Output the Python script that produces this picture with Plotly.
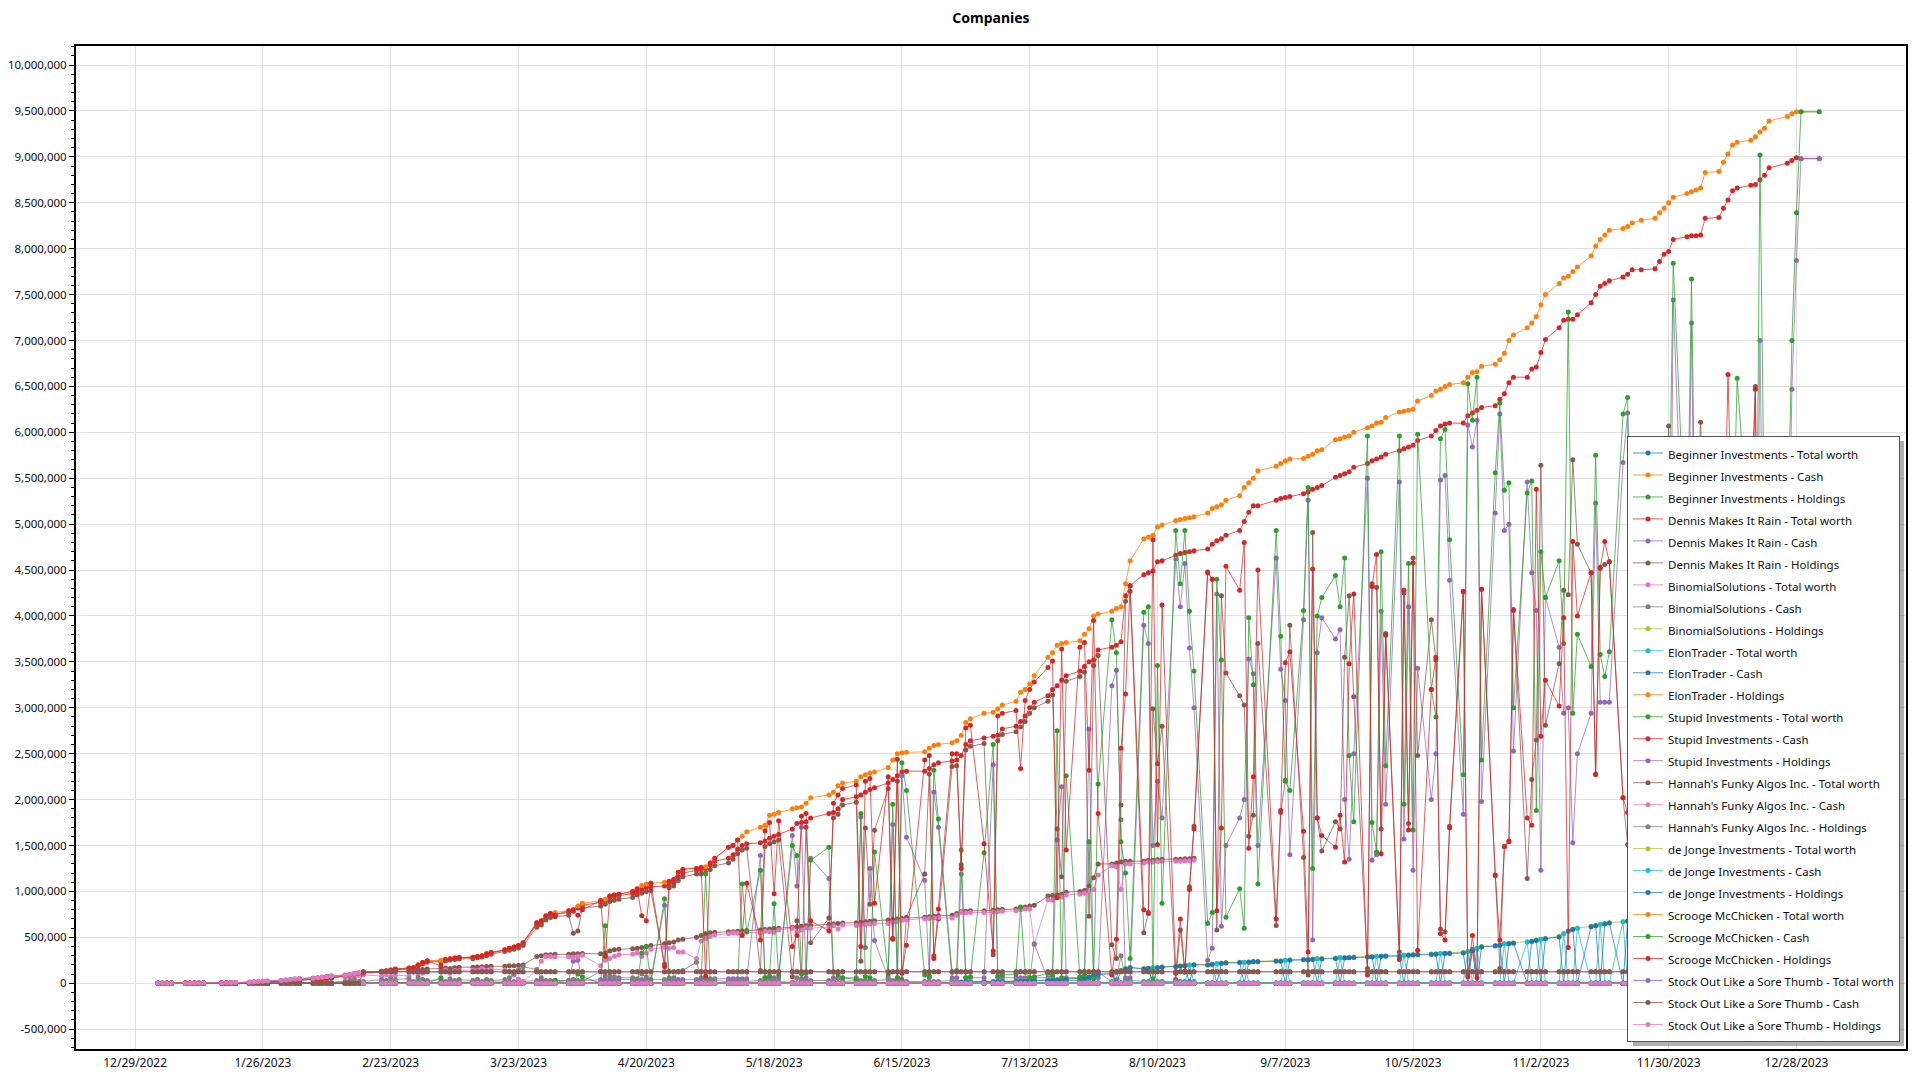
import pandas as pd
import plotly.graph_objects as go

TITLE = "Companies"

# trading days shown on the chart (weekends / market holidays have no point)
HOLIDAYS = ["2023-01-02", "2023-01-16", "2023-02-20", "2023-04-07", "2023-05-29",
            "2023-06-19", "2023-07-04", "2023-09-04", "2023-11-23", "2023-12-25",
            "2024-01-01"]
DATES = [d.strftime("%Y-%m-%d") for d in
         pd.bdate_range("2023-01-03", "2024-01-02", freq="C", holidays=HOLIDAYS)]


def flat(weeks):
    return [v for w in weeks for v in w]


# ---- values in thousands, one inner list per trading week ----
# Scrooge McChicken - Total worth
SCROOGE_TOTAL_K = flat([
    [1, 1, 1, 2], [2, 2, 3, 3, 3], [4, 5, 5, 6], [8, 10, 12, 14, 15], [18, 22, 25, 30, 35],
    [40, 45, 50, 55, 60], [80, 90, 100, 108, 115], [130, 135, 145, 155], [165, 170, 205, 225, 245], [250, 260, 268, 275, 280],
    [282, 290, 300, 320, 335], [365, 380, 395, 410, 440], [660, 680, 735, 760, 770], [790, 800, 840, 870], [900, 915, 950, 960, 970],
    [1000, 1030, 1065, 1080, 1090], [1100, 1110, 1130, 1210, 1240], [1250, 1260, 1270, 1310, 1360], [1480, 1500, 1560, 1600, 1650], [1700, 1720, 1830, 1840, 1860],
    [1900, 1910, 1920, 1960, 2020], [2050, 2080, 2150, 2180], [2200, 2250, 2270, 2290, 2300], [2350, 2430, 2500, 2510, 2515], [2520, 2560, 2590, 2600],
    [2620, 2640, 2700, 2840, 2880], [2940, 2950, 2990, 3030], [3070, 3170, 3200, 3260, 3350], [3550, 3600, 3680, 3700, 3710], [3730, 3800, 3860, 4000, 4020],
    [4050, 4080, 4100, 4350, 4600], [4840, 4860, 4880, 4970, 4990], [5040, 5050, 5060, 5070, 5080], [5120, 5170, 5190, 5210, 5260], [5310, 5400, 5450, 5500, 5580],
    [5630, 5660, 5690, 5710], [5715, 5740, 5760, 5800, 5810], [5920, 5930, 5950, 5960, 6000], [6050, 6070, 6100, 6110, 6160], [6220, 6230, 6240, 6250, 6340],
    [6400, 6450, 6470, 6500, 6520], [6540, 6600, 6650, 6660, 6720], [6740, 6790, 6860, 7000, 7060], [7140, 7190, 7260, 7390, 7500], [7620, 7680, 7700, 7750, 7800],
    [7920, 8030, 8100, 8150, 8200], [8220, 8240, 8280, 8310], [8330, 8390, 8440, 8500, 8560], [8600, 8620, 8640, 8660, 8830], [8840, 8940, 9030, 9130, 9160],
    [9180, 9220, 9270, 9310, 9390], [9440, 9470, 9490, 9490], [9490],
])

# Scrooge McChicken - Cash
SCROOGE_CASH_K = flat([
    [0, 0, 0, 0], [0, 0, 0, 0, 0], [0, 0, 0, 0], [0, 0, 0, 0, 0], [0, 0, 0, 0, 0],
    [0, 0, 0, 0, 0], [0, 0, 0, 0, 0], [0, 0, 0, 0], [0, 0, 10, 0, 0], [60, 0, 0, 0, 0],
    [0, 0, 0, 0, 0], [0, 0, 0, 0, 0], [0, 0, 0, 0, 30], [0, 0, 100, 70], [0, 625, 0, 0, 0],
    [0, 0, 330, 400, 0], [920, 0, 0, 0, 0], [0, 0, 1190, 0, 0], [0, 0, 0, 1080, 560], [1230, 60, 80, 865, 90],
    [1500, 1390, 100, 110, 1340], [1480, 120, 100, 60], [40, 1850, 70, 60, 1430], [100, 1950, 60, 2400, 2100], [90, 80, 2320, 1790],
    [120, 140, 1450, 60, 70], [1420, 2600, 80, 90], [100, 830, 120, 60, 70], [110, 90, 2750, 60, 2260], [70, 90, 1540, 50, 2170],
    [3960, 3600, 1540, 1200, 270], [4040, 4100, 50, 3460, 870], [4930, 4350, 4930, 4050, 3400], [650, 770, 4400, 3520, 720], [1030, 600, 3980, 3250, 1080],
    [4930, 3780, 2200, 2100], [4060, 5400, 1250, 4000, 4200], [4440, 4100, 4630, 2480, 1760], [5960, 1750, 1430, 4700, 2370], [5960, 1950, 4570, 1670, 5980],
    [3200, 2900, 5930, 6030, 4830], [2270, 6530, 6130, 6600, 2430], [5560, 6320, 5370, 5450, 3000], [5340, 5470, 1880, 4700, 4200], [4600, 3700, 7310, 2940, 3800],
    [3450, 5750, 3580, 3340, 3610], [6200, 6380, 4000, 4300], [4200, 4500, 4300, 4600, 7840], [4400, 7670, 4100, 4500, 4200], [4300, 4600, 2400, 4400, 6590],
    [4500, 2750, 9020, 4800, 4600], [4700, 7000, 8390, 9490], [9490],
])

# Dennis Makes It Rain - Total worth
DENNIS_TOTAL_K = flat([
    [1, 1, 1, 2], [2, 2, 3, 3, 3], [4, 5, 5, 6], [8, 10, 12, 14, 15], [18, 22, 25, 30, 35],
    [40, 45, 50, 55, 60], [80, 90, 100, 108, 115], [128, 133, 142, 150], [160, 168, 200, 220, 240], [245, 255, 262, 270, 275],
    [280, 288, 298, 315, 330], [360, 375, 390, 405, 430], [640, 665, 720, 745, 755], [770, 785, 820, 850], [880, 900, 930, 945, 955],
    [975, 1000, 1020, 1040, 1050], [1060, 1080, 1100, 1160, 1200], [1230, 1240, 1250, 1290, 1330], [1360, 1400, 1460, 1500, 1520], [1530, 1550, 1580, 1600, 1620],
    [1680, 1740, 1750, 1760, 1800], [1850, 1860, 1900, 2000], [2030, 2050, 2080, 2110, 2130], [2180, 2220, 2260, 2300, 2310], [2310, 2340, 2380, 2400],
    [2420, 2430, 2480, 2600, 2640], [2670, 2690, 2700, 2770], [2800, 2850, 2910, 3000, 3060], [3130, 3200, 3240, 3300, 3350], [3400, 3450, 3500, 3520, 3630],
    [3660, 3680, 3720, 4220, 4330], [4450, 4470, 4490, 4590, 4600], [4660, 4680, 4690, 4700, 4710], [4730, 4780, 4820, 4840, 4880], [4930, 5030, 5130, 5200, 5200],
    [5260, 5280, 5290, 5300], [5330, 5350, 5380, 5400, 5420], [5510, 5530, 5550, 5570, 5620], [5660, 5690, 5710, 5730, 5760], [5800, 5820, 5840, 5860, 5910],
    [5960, 6020, 6070, 6090, 6100], [6100, 6180, 6210, 6240, 6270], [6290, 6360, 6420, 6540, 6600], [6600, 6690, 6710, 6870, 7010], [7140, 7220, 7230, 7230, 7280],
    [7410, 7500, 7590, 7620, 7650], [7690, 7720, 7770, 7770], [7780, 7860, 7940, 7970, 8100], [8130, 8140, 8140, 8150, 8330], [8340, 8440, 8530, 8630, 8660],
    [8690, 8700, 8750, 8800, 8880], [8930, 8960, 8990, 8980], [8980],
])

# Dennis Makes It Rain - Cash
DENNIS_CASH_K = flat([
    [0, 0, 0, 0], [0, 0, 0, 0, 0], [0, 0, 0, 0], [0, 0, 0, 0, 0], [0, 0, 0, 0, 0],
    [0, 0, 0, 0, 0], [0, 0, 0, 0, 0], [0, 0, 0, 0], [5, 5, 8, 10, 10], [10, 12, 10, 12, 10],
    [12, 10, 12, 15, 15], [15, 15, 20, 20, 20], [30, 30, 30, 30, 30], [30, 240, 250, 30], [40, 40, 40, 40, 40],
    [40, 40, 40, 40, 40], [850, 40, 40, 40, 40], [40, 50, 50, 50, 50], [50, 50, 50, 50, 50], [1390, 60, 60, 60, 60],
    [1610, 1060, 1700, 60, 1360], [1140, 60, 60, 60], [60, 1810, 390, 1250, 465], [60, 1730, 60, 2260, 1590], [1120, 60, 2080, 1700],
    [60, 60, 1190, 60, 60], [60, 2380, 60, 60], [60, 60, 60, 60, 60], [60, 60, 1560, 2140, 60], [60, 60, 2770, 60, 60],
    [3240, 3410, 1780, 60, 60], [3900, 3700, 1500, 2200, 1800], [4620, 4100, 4570, 3650, 3000], [250, 380, 4240, 620, 1500], [1800, 2000, 3530, 3370, 1500],
    [4630, 3420, 3080, 1400], [3960, 5260, 470, 3600, 3980], [3750, 3850, 2000, 1350, 2500], [5500, 1340, 1400, 4050, 1950], [5460, 1570, 4100, 1230, 3430],
    [2000, 2500, 5480, 5530, 4390], [1840, 6080, 5840, 6130, 1980], [5120, 6200, 4930, 5000, 2530], [5460, 4470, 4060, 1230, 4200], [3660, 2940, 3000, 1530, 2500],
    [2940, 5230, 3060, 3060, 3060], [5670, 6210, 3000, 3500], [3500, 3200, 3300, 1900, 7440], [3400, 7190, 3100, 2040, 3600], [3300, 3500, 3200, 3400, 3600],
    [3500, 2200, 7000, 3300, 3400], [3600, 6470, 7870, 8980], [8980],
])

# Hannah's Funky Algos Inc. (series ends 2023-08-18)
HANNAH_TOTAL_K = flat([
    [0, 0, 0, 0], [0, 1, 2, 2, 3], [4, 5, 6, 8], [10, 12, 15, 18, 20], [25, 30, 35, 40, 45],
    [55, 60, 65, 75, 80], [90, 95, 100, 108, 112], [118, 122, 125, 128], [130, 140, 150, 150, 155], [160, 165, 160, 170, 175],
    [175, 178, 180, 182, 185], [185, 190, 190, 195, 200], [290, 300, 310, 310, 315], [315, 320, 320, 325], [320, 330, 350, 365, 370],
    [375, 380, 390, 400, 410], [430, 440, 450, 470, 480], [500, 520, 540, 550, 555], [560, 560, 565, 570, 575], [580, 585, 590, 595, 600],
    [610, 615, 620, 625, 630], [640, 645, 650, 655], [660, 665, 670, 675, 680], [690, 695, 700, 705, 710], [720, 725, 730, 735],
    [740, 760, 780, 785, 790], [790, 795, 800, 805], [810, 820, 830, 840, 850], [950, 955, 960, 970, 990], [1000, 1010, 1060, 1150, 1300],
    [1300, 1310, 1320, 1330, 1330], [1330, 1340, 1340, 1345, 1350], [1350, 1350, 1355, 1355, 1360],
])
HANNAH_HOLDINGS_K = flat([
    [0, 0, 0, 0], [0, 0, 0, 0, 0], [0, 0, 0, 0], [0, 0, 0, 0, 0], [0, 0, 5, 5, 5],
    [10, 10, 20, 20, 10], [20, 30, 40, 20, 20], [40, 30, 50, 40], [50, 20, 60, 40, 30], [40, 20, 50, 30, 40],
    [30, 40, 20, 40, 30], [40, 60, 100, 150, 180], [150, 60, 20, 20, 30], [30, 40, 30, 20], [130, 80, 80, 70, 60],
    [60, 50, 100, 70, 40], [40, 60, 60, 130, 140], [230, 60, 50, 40, 30], [20, 10, 20, 30, 20], [30, 20, 30, 40, 20],
    [10, 60, 40, 20, 30], [30, 20, 60, 20], [30, 30, 30, 30, 30], [40, 30, 30, 20, 20], [20, 20, 20, 20],
    [30, 20, 10, 20, 20], [20, 20, 20, 20], [20, 20, 20, 30, 430], [40, 50, 30, 30, 30], [30, 30, 50, 130, 120],
    [20, 40, 300, 30, 30], [20, 20, 20, 20, 20], [20, 20, 20, 20, 20],
])

# de Jonge Investments (series starts 2023-06-26)
DEJONGE_TOTAL_K = flat([
    [10, 10, 15, 15, 20], [20, 20, 25, 25], [25, 30, 30, 35, 35], [35, 40, 40, 45, 50], [55, 60, 70, 85, 100],
    [110, 120, 140, 160, 175], [160, 165, 170, 175, 180], [185, 190, 195, 200, 205], [205, 210, 215, 220, 225], [230, 230, 235, 240, 240],
    [245, 245, 250, 255], [260, 262, 265, 268, 270], [275, 278, 280, 282, 285], [290, 292, 295, 298, 300], [300, 305, 310, 312, 315],
    [318, 320, 325, 328, 330], [335, 345, 360, 380, 400], [410, 420, 430, 435, 440], [450, 460, 470, 480, 490], [510, 540, 570, 590, 600],
    [620, 630, 640, 650, 660], [670, 680, 685, 690], [690, 695, 700, 700, 705], [705, 710, 710, 715, 715], [720, 720, 720, 725, 725],
    [725, 730, 730, 730, 735], [735, 735, 740, 740], [740],
])
DEJONGE_HOLDINGS_K = flat([
    [5, 5, 10, 10, 15], [15, 15, 20, 20], [20, 25, 25, 30, 30], [30, 35, 35, 40, 45], [50, 55, 65, 80, 95],
    [105, 0, 135, 155, 170], [155, 160, 0, 170, 175], [180, 185, 190, 0, 200], [200, 205, 0, 215, 220], [225, 0, 230, 235, 235],
    [240, 240, 0, 250], [255, 257, 260, 0, 265], [270, 0, 275, 277, 280], [285, 287, 0, 293, 295], [295, 0, 305, 307, 310],
    [313, 315, 0, 323, 325], [330, 0, 355, 0, 395], [405, 415, 0, 430, 435], [0, 455, 465, 0, 485], [505, 0, 565, 585, 0],
    [615, 625, 0, 645, 655], [0, 675, 680, 0], [685, 690, 0, 695, 700], [700, 0, 705, 710, 0], [715, 715, 0, 720, 720],
    [0, 725, 725, 0, 730], [730, 0, 735, 735], [740],
])

# Stock Out Like a Sore Thumb
STOCKOUT_TOTAL_K = flat([
    [0, 0, 0, 0], [1, 1, 2, 2, 3], [4, 5, 6, 8], [12, 15, 18, 22, 25], [30, 35, 40, 45, 50],
    [55, 60, 65, 70, 78], [85, 95, 105, 115, 125], [125, 125, 125, 125], [125, 125, 125, 125, 125], [125, 125, 125, 125, 125],
    [125, 125, 125, 125, 125], [125, 125, 125, 125, 125], [125, 125, 125, 125, 125], [125, 125, 125, 125], [125, 125, 125, 125, 125],
    [125, 125, 125, 125, 125], [125, 125, 125, 125, 125], [125, 125, 125, 125, 125], [125, 125, 125, 125, 125], [125, 125, 125, 125, 125],
    [125, 125, 125, 125, 125], [125, 125, 125, 125], [125, 125, 125, 125, 125], [125, 125, 125, 125, 125], [125, 125, 125, 125],
    [125, 125, 125, 125, 125], [125, 125, 125, 125], [125, 125, 125, 125, 125], [125, 125, 125, 125, 125], [125, 125, 125, 125, 125],
    [125, 125, 125, 125, 125], [125, 125, 125, 125, 125], [125, 125, 125, 125, 125], [125, 125, 125, 125, 125], [125, 125, 125, 125, 125],
    [125, 125, 125, 125], [125, 125, 125, 125, 125], [125, 125, 125, 125, 125], [125, 125, 125, 125, 125], [125, 125, 125, 125, 125],
    [125, 125, 125, 125, 125], [125, 125, 125, 125, 125], [125, 125, 125, 125, 125], [125, 125, 125, 125, 125], [125, 125, 125, 125, 125],
    [125, 125, 125, 125, 125], [125, 125, 125, 125], [125, 125, 125, 125, 125], [125, 125, 125, 125, 125], [125, 125, 125, 125, 125],
    [125, 125, 125, 125, 125], [125, 125, 125, 125], [125],
])
STOCKOUT_HOLDINGS_K = flat([
    [0, 0, 0, 0], [1, 1, 2, 2, 3], [4, 5, 6, 8], [12, 15, 18, 22, 25], [30, 35, 40, 45, 50],
    [55, 60, 65, 70, 78], [85, 95, 105, 115, 0], [0, 0, 0, 0], [0, 0, 0, 0, 0], [0, 0, 0, 0, 0],
    [0, 0, 0, 0, 0], [0, 0, 0, 0, 0], [0, 0, 0, 0, 0], [0, 0, 0, 0], [0, 0, 0, 0, 0],
    [0, 0, 0, 0, 0], [0, 0, 0, 0, 0], [0, 0, 0, 0, 0], [0, 0, 0, 0, 0], [0, 0, 0, 0, 0],
    [0, 0, 0, 0, 0], [0, 0, 0, 0], [0, 0, 0, 0, 0], [0, 0, 0, 0, 0], [0, 0, 0, 0],
    [0, 0, 0, 0, 0], [0, 0, 0, 0], [0, 0, 0, 0, 0], [0, 0, 0, 0, 0], [0, 0, 0, 0, 0],
    [0, 0, 0, 0, 0], [0, 0, 0, 0, 0], [0, 0, 0, 0, 0], [0, 0, 0, 0, 0], [0, 0, 0, 0, 0],
    [0, 0, 0, 0], [0, 0, 0, 0, 0], [0, 0, 0, 0, 0], [0, 0, 0, 0, 0], [0, 0, 0, 0, 0],
    [0, 0, 0, 0, 0], [0, 0, 0, 0, 0], [0, 0, 0, 0, 0], [0, 0, 0, 0, 0], [0, 0, 0, 0, 0],
    [0, 0, 0, 0, 0], [0, 0, 0, 0], [0, 0, 0, 0, 0], [0, 0, 0, 0, 0], [0, 0, 0, 0, 0],
    [0, 0, 0, 0, 0], [0, 0, 0, 0], [0],
])

# companies whose values stay at 0 the whole year
FLAT_ZERO_K = flat([
    [0, 0, 0, 0], [0, 0, 0, 0, 0], [0, 0, 0, 0], [0, 0, 0, 0, 0], [0, 0, 0, 0, 0],
    [0, 0, 0, 0, 0], [0, 0, 0, 0, 0], [0, 0, 0, 0], [0, 0, 0, 0, 0], [0, 0, 0, 0, 0],
    [0, 0, 0, 0, 0], [0, 0, 0, 0, 0], [0, 0, 0, 0, 0], [0, 0, 0, 0], [0, 0, 0, 0, 0],
    [0, 0, 0, 0, 0], [0, 0, 0, 0, 0], [0, 0, 0, 0, 0], [0, 0, 0, 0, 0], [0, 0, 0, 0, 0],
    [0, 0, 0, 0, 0], [0, 0, 0, 0], [0, 0, 0, 0, 0], [0, 0, 0, 0, 0], [0, 0, 0, 0],
    [0, 0, 0, 0, 0], [0, 0, 0, 0], [0, 0, 0, 0, 0], [0, 0, 0, 0, 0], [0, 0, 0, 0, 0],
    [0, 0, 0, 0, 0], [0, 0, 0, 0, 0], [0, 0, 0, 0, 0], [0, 0, 0, 0, 0], [0, 0, 0, 0, 0],
    [0, 0, 0, 0], [0, 0, 0, 0, 0], [0, 0, 0, 0, 0], [0, 0, 0, 0, 0], [0, 0, 0, 0, 0],
    [0, 0, 0, 0, 0], [0, 0, 0, 0, 0], [0, 0, 0, 0, 0], [0, 0, 0, 0, 0], [0, 0, 0, 0, 0],
    [0, 0, 0, 0, 0], [0, 0, 0, 0], [0, 0, 0, 0, 0], [0, 0, 0, 0, 0], [0, 0, 0, 0, 0],
    [0, 0, 0, 0, 0], [0, 0, 0, 0], [0],
])

Y_TICK_VALUES = [-500000, 0, 500000, 1000000, 1500000, 2000000, 2500000, 3000000, 3500000,
                 4000000, 4500000, 5000000, 5500000, 6000000, 6500000, 7000000, 7500000,
                 8000000, 8500000, 9000000, 9500000, 10000000]
Y_TICK_LABELS = ["-500,000", "0", "500,000", "1,000,000", "1,500,000", "2,000,000", "2,500,000",
                 "3,000,000", "3,500,000", "4,000,000", "4,500,000", "5,000,000", "5,500,000",
                 "6,000,000", "6,500,000", "7,000,000", "7,500,000", "8,000,000", "8,500,000",
                 "9,000,000", "9,500,000", "10,000,000"]

PALETTE = ["#1f77b4", "#ff7f0e", "#2ca02c", "#d62728", "#9467bd",
           "#8c564b", "#e377c2", "#7f7f7f", "#bcbd22", "#17becf"]

N = len(DATES)
for nm, arr in [("SCROOGE_TOTAL", SCROOGE_TOTAL_K), ("SCROOGE_CASH", SCROOGE_CASH_K),
                ("DENNIS_TOTAL", DENNIS_TOTAL_K), ("DENNIS_CASH", DENNIS_CASH_K),
                ("STOCKOUT_TOTAL", STOCKOUT_TOTAL_K), ("STOCKOUT_HOLD", STOCKOUT_HOLDINGS_K),
                ("ZERO", FLAT_ZERO_K)]:
    if len(arr) != N:
        raise ValueError(f"{nm}: {len(arr)} values for {N} dates")
if len(HANNAH_TOTAL_K) != len(HANNAH_HOLDINGS_K) or len(DEJONGE_TOTAL_K) != len(DEJONGE_HOLDINGS_K):
    raise ValueError("length mismatch")


def k(seq):
    return [v * 1000 for v in seq]


def diff(a, b):
    return [x - y for x, y in zip(a, b)]


HANNAH_DATES = DATES[:len(HANNAH_TOTAL_K)]
DEJONGE_DATES = DATES[N - len(DEJONGE_TOTAL_K):]

SERIES = [
    ("Beginner Investments - Total worth", DATES, FLAT_ZERO_K),
    ("Beginner Investments - Cash", DATES, FLAT_ZERO_K),
    ("Beginner Investments - Holdings", DATES, FLAT_ZERO_K),
    ("Dennis Makes It Rain - Total worth", DATES, DENNIS_TOTAL_K),
    ("Dennis Makes It Rain - Cash", DATES, DENNIS_CASH_K),
    ("Dennis Makes It Rain - Holdings", DATES, diff(DENNIS_TOTAL_K, DENNIS_CASH_K)),
    ("BinomialSolutions - Total worth", DATES, FLAT_ZERO_K),
    ("BinomialSolutions - Cash", DATES, FLAT_ZERO_K),
    ("BinomialSolutions - Holdings", DATES, FLAT_ZERO_K),
    ("ElonTrader - Total worth", DATES, FLAT_ZERO_K),
    ("ElonTrader - Cash", DATES, FLAT_ZERO_K),
    ("ElonTrader - Holdings", DATES, FLAT_ZERO_K),
    ("Stupid Investments - Total worth", DATES, FLAT_ZERO_K),
    ("Stupid Investments - Cash", DATES, FLAT_ZERO_K),
    ("Stupid Investments - Holdings", DATES, FLAT_ZERO_K),
    ("Hannah's Funky Algos Inc. - Total worth", HANNAH_DATES, HANNAH_TOTAL_K),
    ("Hannah's Funky Algos Inc. - Cash", HANNAH_DATES, diff(HANNAH_TOTAL_K, HANNAH_HOLDINGS_K)),
    ("Hannah's Funky Algos Inc. - Holdings", HANNAH_DATES, HANNAH_HOLDINGS_K),
    ("de Jonge Investments - Total worth", DEJONGE_DATES, DEJONGE_TOTAL_K),
    ("de Jonge Investments - Cash", DEJONGE_DATES, diff(DEJONGE_TOTAL_K, DEJONGE_HOLDINGS_K)),
    ("de Jonge Investments - Holdings", DEJONGE_DATES, DEJONGE_HOLDINGS_K),
    ("Scrooge McChicken - Total worth", DATES, SCROOGE_TOTAL_K),
    ("Scrooge McChicken - Cash", DATES, SCROOGE_CASH_K),
    ("Scrooge McChicken - Holdings", DATES, diff(SCROOGE_TOTAL_K, SCROOGE_CASH_K)),
    ("Stock Out Like a Sore Thumb - Total worth", DATES, STOCKOUT_TOTAL_K),
    ("Stock Out Like a Sore Thumb - Cash", DATES, diff(STOCKOUT_TOTAL_K, STOCKOUT_HOLDINGS_K)),
    ("Stock Out Like a Sore Thumb - Holdings", DATES, STOCKOUT_HOLDINGS_K),
]


def rgba(hex_color, a):
    h = hex_color.lstrip("#")
    return f"rgba({int(h[0:2], 16)},{int(h[2:4], 16)},{int(h[4:6], 16)},{a})"


FONT = "Noto Sans, Open Sans, DejaVu Sans, sans-serif"
LEGEND_TEXT_PX = 11.5

fig = go.Figure()
for i, (name, xs, ys) in enumerate(SERIES):
    col = PALETTE[i % 10]
    fig.add_trace(go.Scatter(
        x=xs, y=k(ys), mode="lines+markers",
        name=f'<span style="font-size:{LEGEND_TEXT_PX}px">{name}</span>',
        line=dict(color=rgba(col, 0.75), width=1),
        marker=dict(color=col, size=5),
    ))

# page = 1920x1080 with the browser's 8px body margin around the figure
W, H = 1904, 1064
ML, MR, MT, MB = 68, 6, 38, 23
PW, PH = W - ML - MR, H - MT - MB


def px_x(div_x):
    return (div_x - ML) / PW


def px_y(div_y):
    return (H - MB - div_y) / PH


# soft drop shadow under the legend box (right / bottom edges)
LEGEND_BOX = dict(left=1621, right=1892, top=429, bottom=1034)
fig.add_shape(type="rect", xref="paper", yref="paper", layer="above",
              x0=px_x(LEGEND_BOX["left"] + 4), x1=px_x(LEGEND_BOX["right"] + 4),
              y0=px_y(LEGEND_BOX["bottom"] + 4), y1=px_y(LEGEND_BOX["top"] + 4),
              fillcolor="rgba(80,80,80,0.45)", line=dict(width=0))

fig.update_layout(
    width=W, height=H,
    margin=dict(l=ML, r=MR, t=MT, b=MB, autoexpand=False),
    paper_bgcolor="white", plot_bgcolor="white",
    font=dict(family=FONT, size=12, color="#111111"),
    title=dict(text="<b>" + TITLE + "</b>", x=0.5, xref="paper", xanchor="center",
               y=1 - 10 / H, yref="container", yanchor="middle",
               font=dict(size=14, color="#000000", family=FONT)),
    showlegend=True,
    legend=dict(x=px_x(LEGEND_BOX["right"]), xanchor="right",
                y=px_y(LEGEND_BOX["bottom"]), yanchor="bottom",
                bgcolor="white", bordercolor="#555555", borderwidth=1,
                font=dict(size=14.6, color="#111111", family=FONT),
                itemwidth=30, tracegroupgap=0),
    hovermode="closest",
)
fig.update_xaxes(
    type="date", automargin=False,
    range=["2022-12-16 01:00", "2024-01-21 00:00"],
    tickmode="linear", tick0="2022-12-29", dtick=28 * 86400000,
    tickformat="%-m/%-d/%Y",
    showgrid=True, gridcolor="#e2e2e2", gridwidth=1,
    showline=True, linecolor="black", linewidth=2, mirror=True,
    ticks="", ticklabelstandoff=2,
    minor=dict(tick0="2022-12-29", dtick=28 * 86400000, ticks="outside", ticklen=5,
               tickcolor="black", showgrid=False),
    tickfont=dict(size=12, color="#111111"),
    zeroline=False,
)
fig.update_yaxes(
    automargin=False,
    range=[-716000, 10207000],
    tickmode="array", tickvals=Y_TICK_VALUES, ticktext=Y_TICK_LABELS,
    showgrid=True, gridcolor="#e2e2e2", gridwidth=1,
    showline=True, linecolor="black", linewidth=2, mirror=True,
    ticks="outside", ticklen=5, tickcolor="black",
    minor=dict(dtick=100000, tick0=0, ticks="outside", ticklen=3, tickcolor="black", showgrid=False),
    tickfont=dict(size=11.5, color="#111111"),
    zeroline=False,
)

fig.write_html("out.html")
